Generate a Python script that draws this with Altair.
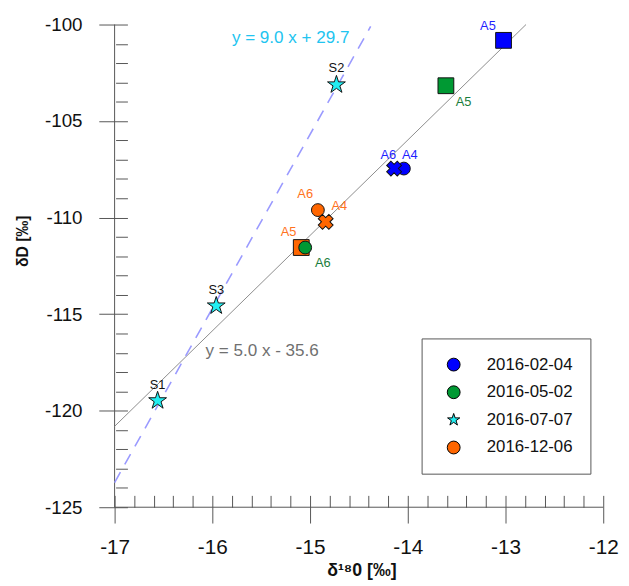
import altair as alt
import pandas as pd

# ---------------- data ----------------
dates = ["2016-02-04", "2016-05-02", "2016-07-07", "2016-12-06"]
fill_colors = ["#0000ff", "#009933", "#22eef2", "#ff6600"]
label_colors = ["#1f1fff", "#1a7d3c", "#111111", "#ff7220"]

pt_date = ["2016-02-04", "2016-02-04", "2016-02-04",
           "2016-05-02", "2016-05-02",
           "2016-12-06", "2016-12-06", "2016-12-06",
           "2016-07-07", "2016-07-07", "2016-07-07"]
pt_name = ["A5", "A4", "A6", "A5", "A6", "A5", "A6", "A4", "S2", "S3", "S1"]
pt_marker = ["square", "circle", "cross", "square", "circle",
             "square", "circle", "cross", "star", "star", "star"]
pt_x = [-13.02, -14.04, -14.14, -13.61, -15.05, -15.09, -14.92, -14.84, -14.73, -15.96, -16.56]
pt_y = [-100.82, -107.46, -107.46, -103.17, -111.55, -111.55, -109.61, -110.22, -103.12, -114.57, -119.48]
lab_x = [-13.18, -13.98, -14.20, -13.43, -14.87, -15.22, -15.05, -14.70, -14.73, -15.96, -16.56]
lab_y = [-100.10, -106.75, -106.75, -104.04, -112.37, -110.74, -108.79, -109.41, -102.25, -113.75, -118.66]

# regression lines (end points)
gray_x = [-17.0, -12.79]
gray_y = [-120.81, -100.0]
dash_x = [-17.0, -14.38]
dash_y = [-123.72, -100.1]
eq_text = ["y = 9.0 x + 29.7", "y = 5.0 x - 35.6"]
eq_x = [-15.80, -16.07]
eq_y = [-100.72, -116.92]
eq_color = ["#22c4f0", "#707070"]

x_domain = [-17, -12]
y_domain = [-125, -100]
x_ticks = [round(-17 + 0.2 * i, 1) for i in range(26)]
y_ticks = list(range(-125, -99))

FONT = "Liberation Sans"
AX = "#555555"
STAR = ("M0,-1L0.225,-0.309L0.951,-0.309L0.363,0.118L0.588,0.809L0,0.382"
        "L-0.588,0.809L-0.363,0.118L-0.951,-0.309L-0.225,-0.309Z")
legend_shapes = ["circle", "circle", STAR, "circle"]

pts = pd.DataFrame({"date": pt_date, "name": pt_name, "marker": pt_marker,
                    "x": pt_x, "y": pt_y, "lx": lab_x, "ly": lab_y})
leg_df = pd.DataFrame({"date": dates, "x": [-13.0] * 4, "y": [-120.0] * 4})

xs = alt.Scale(domain=x_domain, nice=False, zero=False)
ys = alt.Scale(domain=y_domain, nice=False, zero=False)
cs = alt.Scale(domain=dates, range=fill_colors)

legend = alt.Legend(title=None, orient="none", legendX=311, legendY=318,
                    strokeColor=AX, fillColor="white", padding=18,
                    symbolOffset=6, labelOffset=25, rowPadding=10,
                    labelFont=FONT, labelFontSize=17, labelColor="#111111",
                    symbolSize=169, symbolStrokeColor="black", symbolStrokeWidth=1)

x_major_test = "abs(datum.value - round(datum.value)) < 0.01"
y_major_test = "abs(datum.value % 5) < 0.01"

x_axis = alt.Axis(orient="bottom", values=x_ticks, offset=-12,
                  tickSize={"condition": {"test": x_major_test, "value": 28}, "value": 12},
                  tickColor=AX, tickWidth=1, domain=False, grid=False,
                  labelExpr=x_major_test + " ? '' + datum.value : ''",
                  labelOverlap=False, labelFlush=False,
                  labelFont=FONT, labelFontSize=21, labelColor="#111111",
                  labelPadding=14,
                  title="δ¹⁸0 [‰]", titleFont=FONT, titleFontSize=18,
                  titleFontWeight="bold", titleColor="#111111",
                  titleX=250, titleY=76, titleBaseline="middle",
                  titleAlign="center")
y_axis = alt.Axis(orient="left", values=y_ticks, offset=-13,
                  tickSize={"condition": {"test": y_major_test, "value": 29}, "value": 12},
                  tickColor=AX, tickWidth=1, domain=False, grid=False,
                  labelExpr=y_major_test + " ? '' + datum.value : ''",
                  labelOverlap=False, labelFlush=False,
                  labelFont=FONT, labelFontSize=19, labelColor="#111111",
                  labelPadding=17,
                  title="δD [‰]", titleFont=FONT, titleFontSize=16,
                  titleFontWeight="bold", titleColor="#111111",
                  titleAngle=270, titleX=-106, titleY=219,
                  titleBaseline="middle", titleAlign="center")

X = lambda f: alt.X(f, scale=xs, axis=x_axis)
Y = lambda f: alt.Y(f, scale=ys, axis=y_axis)

gray_df = pd.DataFrame({"x": gray_x, "y": gray_y})
dash_df = pd.DataFrame({"x": dash_x, "y": dash_y})
eq_df = pd.DataFrame({"t": eq_text, "x": eq_x, "y": eq_y, "c": eq_color})
dom_df = pd.DataFrame({"x": [x_domain[0]], "y": [y_domain[0]],
                       "x2": [x_domain[1]], "y2": [y_domain[1]]})

gray_line = alt.Chart(gray_df).mark_line(color="#8c8c8c", strokeWidth=1).encode(
    x=X("x:Q"), y=Y("y:Q"))
dash_line = alt.Chart(dash_df).mark_line(color="#9a9aff", strokeWidth=1.6,
                                         strokeDash=[12, 9]).encode(
    x=X("x:Q"), y=Y("y:Q"))

# axis lines (left and bottom only)
x_dom = alt.Chart(dom_df).mark_rule(color=AX, strokeWidth=1).encode(
    x=X("x:Q"), x2="x2:Q", y=Y("y:Q"))
y_dom = alt.Chart(dom_df).mark_rule(color=AX, strokeWidth=1).encode(
    x=X("x:Q"), y=Y("y:Q"), y2="y2:Q")

marker_shape = {"square": "square", "circle": "circle", "cross": "cross", "star": STAR}
marker_sizes = {"square": 256, "circle": 169, "cross": 230, "star": 360}
marker_angle = {"square": 0, "circle": 0, "cross": 45, "star": 0}
point_layers = []
for m in ["square", "circle", "cross", "star"]:
    point_layers.append(
        alt.Chart(pts).transform_filter(alt.datum.marker == m).mark_point(
            shape=marker_shape[m], filled=True, size=marker_sizes[m],
            angle=marker_angle[m], stroke="#111111", strokeWidth=1, opacity=1).encode(
            x=X("x:Q"), y=Y("y:Q"),
            color=alt.Color("date:N", scale=cs, legend=legend),
        )
    )

label_layers = []
for d, c in zip(dates, label_colors):
    label_layers.append(
        alt.Chart(pts).transform_filter(alt.datum.date == d).mark_text(
            font=FONT, fontSize=13, color=c, align="center", baseline="middle").encode(
            x=X("lx:Q"), y=Y("ly:Q"), text="name:N")
    )

eq_layers = []
for i in range(len(eq_text)):
    eq_layers.append(
        alt.Chart(eq_df.iloc[[i]]).mark_text(
            font=FONT, fontSize=17.3, color=eq_color[i], align="left",
            baseline="middle").encode(
            x=X("x:Q"), y=Y("y:Q"), text="t:N")
    )

# hidden layer that only feeds the legend (colour + shape per date)
legend_layer = alt.Chart(leg_df).mark_point(filled=True, opacity=0, stroke="black",
                                            strokeWidth=1).encode(
    x=X("x:Q"), y=Y("y:Q"),
    color=alt.Color("date:N", scale=cs, legend=legend),
    shape=alt.Shape("date:N", scale=alt.Scale(domain=dates, range=legend_shapes),
                    legend=legend),
)

chart = alt.layer(x_dom, y_dom, gray_line, dash_line, *point_layers,
                  *label_layers, *eq_layers, legend_layer).properties(
    width=495, height=489, background="white",
    autosize=alt.AutoSizeParams(type="none"),
    padding={"left": 108, "top": 13, "right": 18, "bottom": 72},
).configure_view(stroke=None)

chart.save("out.html", embed_options={"renderer": "svg", "actions": False})
